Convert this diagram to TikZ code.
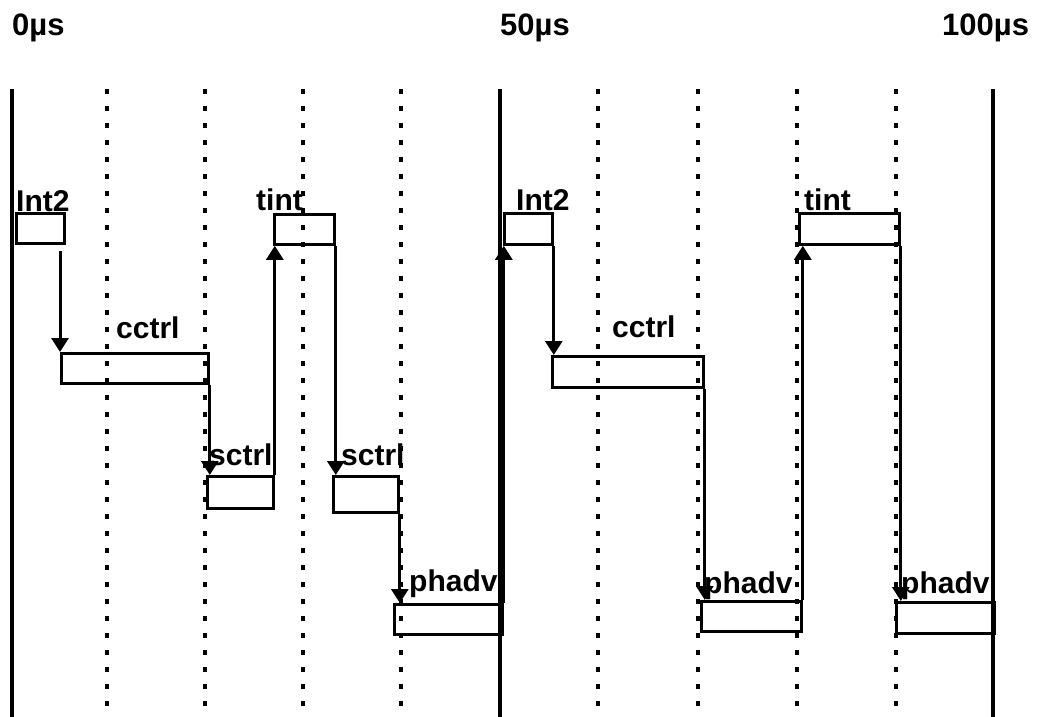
\documentclass[tikz,border=0pt]{standalone}
\usepackage{fontspec}
\setmainfont{Liberation Sans}
\usetikzlibrary{arrows.meta,positioning,calc}
\tikzset{taskbox/.style={draw=black,line width=2.8pt,anchor=north west,inner sep=0pt,minimum height=30pt},
 tasklabel/.style={anchor=base west,inner sep=0pt,font=\fontsize{30}{30}\selectfont\bfseries},
 timelabel/.style={anchor=base west,inner sep=0pt,font=\fontsize{31}{31}\selectfont\bfseries},
 taskarrow/.style={-{Triangle[length=14pt,width=17pt]},draw=black,line width=3pt},
 solidtick/.style={draw=black,line width=3.5pt},
 dottedtick/.style={draw=black,line width=3.5pt,dash pattern=on 5pt off 12pt}}
\begin{document}
\begin{tikzpicture}[x=1pt,y=-1pt]
\useasboundingbox (0,0) rectangle (1037,717);
% time grid
\foreach \gx in {107,205,303,401,598,698,797,896}
 \draw[dottedtick] (\gx,89)--(\gx,717);
\foreach \gx in {12,500,993}
 \draw[solidtick] (\gx,89)--(\gx,717);
\node[timelabel] (t0) at (12,36) {0µs};
\node[timelabel] (t50) at (500,36) {50µs};
\node[timelabel] (t100) at (942,36) {100µs};
% tasks
\node[taskbox,minimum width=48pt] (int2a) at (15,212) {};
\node[taskbox,minimum width=147pt] (cctrla) at (60,352) {};
\node[taskbox,minimum width=66pt,minimum height=32pt] (sctrla) at (206,475) {};
\node[taskbox,minimum width=60pt] (tinta) at (273,213) {};
\node[taskbox,minimum width=65pt,minimum height=36pt] (sctrlb) at (332,475) {};
\node[taskbox,minimum width=108pt] (phadva) at (393,603) {};
\node[taskbox,minimum width=48pt,minimum height=31pt] (int2b) at (503,212) {};
\node[taskbox,minimum width=151pt,minimum height=31pt] (cctrlb) at (551,355) {};
\node[taskbox,minimum width=100pt,minimum height=31pt] (tintb) at (798,212) {};
\node[taskbox,minimum width=100pt] (phadvb) at (700,600) {};
\node[taskbox,minimum width=98pt,minimum height=31pt] (phadvc) at (895,601) {};
% labels
\node[tasklabel] (int2alab) at (16,211) {Int2};
\node[tasklabel] (cctrlalab) at (116,338) {cctrl};
\node[tasklabel] (sctrlalab) at (209,465) {sctrl};
\node[tasklabel] (tintalab) at (256,210) {tint};
\node[tasklabel] (sctrlblab) at (341,465) {sctrl};
\node[tasklabel] (phadvalab) at (409,591) {phadv};
\node[tasklabel] (int2blab) at (516,210) {Int2};
\node[tasklabel] (cctrlblab) at (612,337) {cctrl};
\node[tasklabel] (tintblab) at (804,210) {tint};
\node[tasklabel] (phadvblab) at (704,593) {phadv};
\node[tasklabel] (phadvclab) at (901,593) {phadv};
% hand-overs
\draw[taskarrow] ([yshift=-6pt]int2a.south -| cctrla.north west)--(cctrla.north west);
\draw[taskarrow] (cctrla.south east)--(cctrla.south east |- sctrla.north);
\draw[taskarrow] (sctrla.north east)--(sctrla.north east |- tinta.south);
\draw[taskarrow] (tinta.south east)--(tinta.south east |- sctrlb.north);
\draw[taskarrow] (sctrlb.south east)--(sctrlb.south east |- phadva.north);
\draw[taskarrow] (phadva.north east)--(phadva.north east |- int2b.south);
\draw[taskarrow] (int2b.south east)--(int2b.south east |- cctrlb.north);
\draw[taskarrow] (cctrlb.south east)--(cctrlb.south east |- phadvb.north);
\draw[taskarrow] (phadvb.north east)--(phadvb.north east |- tintb.south);
\draw[taskarrow] (tintb.south east)--(tintb.south east |- phadvc.north);
\end{tikzpicture}
\end{document}
